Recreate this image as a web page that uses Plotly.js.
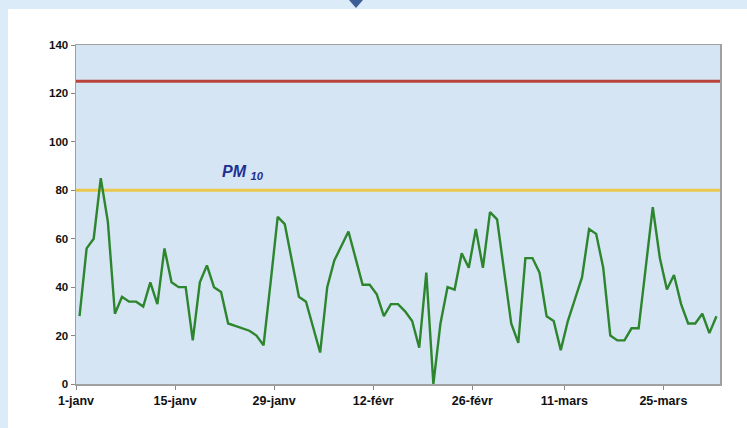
<!DOCTYPE html>
<html>
<head>
<meta charset="utf-8">
<script src="https://cdn.plot.ly/plotly-3.0.1.min.js"></script>
<style>
  html, body { margin: 0; padding: 0; width: 747px; height: 428px; overflow: hidden; background: #dcebf8; }
  #panel { position: absolute; left: 8px; top: 9px; width: 739px; height: 419px; background: #ffffff; }
  #chart { width: 739px; height: 419px; }
  #mark { position: absolute; left: 349px; top: 0px; width: 0; height: 0;
          border-left: 7px solid transparent; border-right: 7px solid transparent; border-top: 8px solid #3d5f97; }
</style>
</head>
<body>
<div id="panel"><div id="chart"></div></div>
<div id="mark"></div>
<script>
// ---- data ----
const pm10 = [
  28, 56, 60, 85, 67, 29, 36, 34, 34, 32,
  42, 33, 56, 42, 40, 40, 18, 42, 49, 40,
  38, 25, 24, 23, 22, 20, 16, 42, 69, 66,
  51, 36, 34, 24, 13, 40, 51, 57, 63, 52,
  41, 41, 37, 28, 33, 33, 30, 26, 15, 46,
  0, 25, 40, 39, 54, 48, 64, 48, 71, 68,
  47, 25, 17, 52, 52, 46, 28, 26, 14, 26,
  35, 44, 64, 62, 48, 20, 18, 18, 23, 23,
  48, 73, 52, 39, 45, 33, 25, 25, 29, 21, 28
];
const tickDates = ['2007-01-01','2007-01-15','2007-01-29','2007-02-12','2007-02-26','2007-03-11','2007-03-25'];
const tickLabels = ['1-janv','15-janv','29-janv','12-févr','26-févr','11-mars','25-mars'];
const yTicks = [0, 20, 40, 60, 80, 100, 120, 140];
const limitHigh = 125;
const limitLow = 80;
const seriesLabel = 'PM';
const seriesSub = '10';

// one point per day, centred in each day (Excel "between tick marks")
const days = pm10.map((_, i) => {
  const d = new Date(Date.UTC(2007, 0, 1, 12) + i * 86400000);
  return d.toISOString().slice(0, 19).replace('T', ' ');
});

const trace = {
  x: days, y: pm10, type: 'scatter', mode: 'lines',
  line: { color: '#2d852d', width: 2.4 }, hoverinfo: 'skip'
};

const layout = {
  width: 739, height: 419,
  margin: { l: 68, r: 27, t: 36, b: 44 },
  paper_bgcolor: '#ffffff',
  plot_bgcolor: '#d5e5f4',
  showlegend: false,
  font: { family: 'Liberation Sans, Arial, sans-serif', size: 11, color: '#000' },
  xaxis: {
    type: 'date', range: ['2007-01-01', '2007-04-02'],
    tickmode: 'array', tickvals: tickDates, ticktext: tickLabels.map(t => '<b>' + t + '</b>'),
    ticks: 'outside', ticklen: 4, tickcolor: '#888', tickfont: { size: 12.5, color: '#111' },
    showgrid: false, zeroline: false,
    showline: true, linecolor: '#a0a0a0', linewidth: 1.5, mirror: true
  },
  yaxis: {
    range: [0, 140], tickmode: 'array', tickvals: yTicks, ticktext: yTicks.map(t => '<b>' + t + '</b>'),
    ticks: 'outside', ticklen: 4, tickcolor: '#888', tickfont: { size: 11.5, color: '#111' },
    showgrid: false, zeroline: false,
    showline: true, linecolor: '#a0a0a0', linewidth: 1.5, mirror: true
  },
  shapes: [
    { type: 'line', xref: 'paper', yref: 'y', x0: 0, x1: 1, y0: limitHigh, y1: limitHigh,
      line: { color: '#b8443c', width: 3 }, layer: 'below' },
    { type: 'line', xref: 'paper', yref: 'y', x0: 0, x1: 1, y0: limitLow, y1: limitLow,
      line: { color: '#e9c84c', width: 3 }, layer: 'below' }
  ],
  annotations: [
    { x: '2007-01-24 14:00', y: 87.5, xref: 'x', yref: 'y', showarrow: false,
      text: '<b><i>' + seriesLabel + ' <sub>' + seriesSub + '</sub></i></b>',
      font: { size: 16, color: '#22308f', family: 'Liberation Sans, Arial, sans-serif' } }
  ]
};

Plotly.newPlot('chart', [trace], layout, { staticPlot: true, displayModeBar: false });
</script>
</body>
</html>
